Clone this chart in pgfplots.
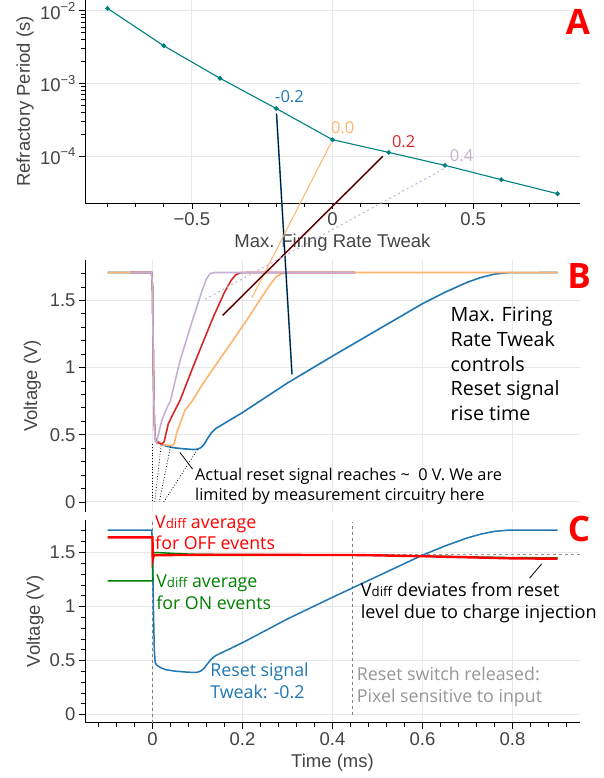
\documentclass[border=0pt]{standalone}
\usepackage{fontspec}
\setmainfont{Liberation Sans}
\newfontfamily\annot{Open Sans}
\usepackage{pgfplots}
\pgfplotsset{compat=1.18}
\definecolor{tickgray}{RGB}{68,68,68}
\definecolor{gridgray}{RGB}{232,232,232}
\definecolor{tblue}{RGB}{31,119,180}
\definecolor{torange}{RGB}{255,180,110}
\definecolor{tred}{RGB}{214,39,40}
\definecolor{tlav}{RGB}{197,176,213}
\definecolor{tealc}{RGB}{0,128,128}
\definecolor{offred}{RGB}{255,0,0}
\definecolor{ongreen}{RGB}{0,128,0}
\definecolor{swgray}{RGB}{150,150,150}
\newcommand{\fs}[1]{\fontsize{#1}{#1}\selectfont}
\newcommand{\sub}{\raisebox{0pt}{\fs{13.3}diff}}

\pgfplotsset{
  panel/.style={
    scale only axis, width=495pt,
    axis x line*=bottom, axis y line*=left,
    axis line style={line width=0.9pt, black, -},
    tick align=outside,
    major tick length=6pt, minor tick length=4pt,
    tick style={black, line width=0.7pt},
    grid=major,
    major grid style={draw=gridgray, line width=0.9pt},
    tick label style={font=\fs{18.5}, text=tickgray},
    label style={font=\fs{18.5}, text=tickgray},
    clip mode=individual,
  },
  vpanel/.style={panel, xmin=-0.15, xmax=0.95, ymin=-0.075, ymax=1.8,
    xtick={0,0.2,0.4,0.6,0.8},
    ytick={0,0.5,1,1.5}, yticklabels={0,0.5,1,1.5},
    minor ytick={0.1,0.2,0.3,0.4,0.6,0.7,0.8,0.9,1.1,1.2,1.3,1.4,1.6,1.7},
  },
}

\pgfplotstableread{
t v
-0.100 1.707
-0.002 1.707
0.000 1.60
0.002 1.00
0.004 0.60
0.006 0.48
0.010 0.455
0.020 0.43
0.030 0.415
0.050 0.402
0.070 0.395
0.090 0.390
0.100 0.392
0.108 0.405
0.115 0.43
0.122 0.47
0.130 0.51
0.140 0.545
0.160 0.585
0.200 0.665
0.300 0.885
0.400 1.085
0.500 1.28
0.600 1.475
0.650 1.56
0.700 1.635
0.730 1.670
0.760 1.695
0.790 1.706
0.900 1.707
}\blueT

\pgfplotstableread{
t v
-0.100 1.707
-0.002 1.707
0.000 1.60
0.002 1.00
0.004 0.60
0.006 0.48
0.012 0.445
0.025 0.425
0.043 0.418
0.048 0.43
0.054 0.517
0.072 0.68
0.089 0.754
0.110 0.87
0.132 0.978
0.170 1.16
0.209 1.35
0.240 1.51
0.260 1.61
0.275 1.675
0.290 1.703
0.310 1.707
0.900 1.707
}\orangeT

\pgfplotstableread{
t v
-0.050 1.707
-0.002 1.707
0.000 1.60
0.002 1.00
0.004 0.60
0.006 0.47
0.012 0.44
0.021 0.43
0.026 0.45
0.035 0.58
0.048 0.67
0.061 0.754
0.087 0.978
0.110 1.17
0.135 1.375
0.160 1.56
0.175 1.65
0.185 1.69
0.195 1.705
0.210 1.707
0.450 1.707
}\redT

\pgfplotstableread{
t v
-0.050 1.707
-0.002 1.707
0.000 1.60
0.002 1.00
0.004 0.60
0.006 0.45
0.009 0.44
0.013 0.50
0.020 0.60
0.032 0.70
0.040 0.754
0.061 1.05
0.091 1.375
0.110 1.57
0.120 1.66
0.128 1.70
0.140 1.707
0.450 1.707
}\lavT

\pgfplotstableread{
t v
-0.100 1.640
0.000 1.640
0.0005 1.435
0.003 1.475
0.100 1.477
0.300 1.477
0.450 1.476
0.500 1.473
0.600 1.465
0.700 1.455
0.800 1.445
0.900 1.442
}\offT

\pgfplotstableread{
t v
-0.100 1.238
0.000 1.238
0.0005 1.500
0.020 1.497
0.050 1.490
0.100 1.482
0.200 1.479
0.450 1.477
0.550 1.470
0.700 1.460
0.800 1.452
0.900 1.450
}\onT

\begin{document}
\begin{tikzpicture}
\useasboundingbox (0pt,0pt) rectangle (604pt,-778pt);

% ---------------- Panel A ----------------
\begin{axis}[panel, at={(85pt,-203pt)}, anchor=south west, height=203pt,
  xmin=-0.88, xmax=0.88, ymode=log, ymin=2.28e-5, ymax=1.403e-2,
  xtick={-0.5,0,0.5}, xticklabels={−0.5,0,0.5},
  minor xtick={-0.8,-0.7,-0.6,-0.4,-0.3,-0.2,-0.1,0.1,0.2,0.3,0.4,0.6,0.7,0.8},
  ytick={1e-4,1e-3,1e-2},
  yticklabels={10\raisebox{0.42em}{\fs{13}−4},10\raisebox{0.42em}{\fs{13}−3},10\raisebox{0.42em}{\fs{13}−2}},
  xlabel={Max. Firing Rate Tweak}, ylabel={Refractory Period (s)},
  xlabel style={at={(axis description cs:0.5,-0.197)}, anchor=center},
  ylabel style={at={(axis description cs:-0.121,0.5)}, anchor=center},
]
\addplot[tealc, line width=1.1pt, mark=*, mark size=1.8pt, mark options={fill=tealc, draw=tealc}]
  coordinates {(-0.8,0.01076)(-0.6,3.30e-3)(-0.4,1.18e-3)(-0.2,4.53e-4)(0,1.69e-4)(0.2,1.13e-4)(0.4,7.5e-5)(0.6,4.77e-5)(0.8,3.06e-5)};
\node[anchor=base, text=tblue, font=\annot\fs{16.5}] at (axis cs:-0.153,5.42e-4) {-0.2};
\node[anchor=base, text=torange, font=\annot\fs{16.5}] at (axis cs:0.036,2.05e-4) {0.0};
\node[anchor=base, text=tred, font=\annot\fs{16.5}] at (axis cs:0.253,1.30e-4) {0.2};
\node[anchor=base, text=tlav, font=\annot\fs{16.5}] at (axis cs:0.459,8.53e-5) {0.4};
\coordinate (Ab) at (axis cs:-0.199,3.86e-4);
\coordinate (Ao) at (axis cs:-0.0055,1.52e-4);
\coordinate (Ar) at (axis cs:0.179,1.0e-4);
\coordinate (Al) at (axis cs:0.395,6.7e-5);
\end{axis}

% ---------------- Panel B ----------------
\begin{axis}[vpanel, at={(85pt,-512pt)}, anchor=south west, height=252pt,
  xmajorticks=false, x axis line style={draw=none},
  ylabel={Voltage (V)},
  ylabel style={at={(axis description cs:-0.1065,0.5)}, anchor=center},
]
\addplot[tblue, line width=1.6pt] table[x=t,y=v] {\blueT};
\addplot[torange, line width=1.6pt] table[x=t,y=v] {\orangeT};
\addplot[tred, line width=1.6pt] table[x=t,y=v] {\redT};
\addplot[tlav, line width=1.6pt] table[x=t,y=v] {\lavT};
\draw[black, dotted, line width=0.8pt] (axis cs:0.000,0.43) -- (axis cs:0.000,0.0);
\draw[black, dotted, line width=0.8pt] (axis cs:0.019,0.42) -- (axis cs:0.005,0.0);
\draw[black, dotted, line width=0.8pt] (axis cs:0.040,0.41) -- (axis cs:0.015,0.0);
\draw[black, dotted, line width=0.8pt] (axis cs:0.100,0.39) -- (axis cs:0.025,0.0);
\draw[black, line width=0.8pt] (axis cs:0.061,0.368) -- (axis cs:0.089,0.244);
\node[anchor=base west, inner sep=0pt, font=\annot\fs{16.3}] at (axis cs:0.0944,0.157) {Actual reset signal reaches \textasciitilde\ \ 0 V. We are};
\node[anchor=base west, inner sep=0pt, font=\annot\fs{16.3}] at (axis cs:0.0944,0.0075) {limited by measurement circuitry here};
\node[anchor=base west, inner sep=0pt, font=\annot\fs{19.7}] at (axis cs:0.662,1.341) {Max. Firing};
\node[anchor=base west, inner sep=0pt, font=\annot\fs{19.7}] at (axis cs:0.662,1.157) {Rate Tweak};
\node[anchor=base west, inner sep=0pt, font=\annot\fs{19.7}] at (axis cs:0.662,0.974) {controls};
\node[anchor=base west, inner sep=0pt, font=\annot\fs{19.7}] at (axis cs:0.662,0.790) {Reset signal};
\node[anchor=base west, inner sep=0pt, font=\annot\fs{19.7}] at (axis cs:0.662,0.607) {rise time};
\coordinate (Bb) at (axis cs:0.310,0.95);
\coordinate (Bo) at (axis cs:0.221,1.52);
\coordinate (Br) at (axis cs:0.156,1.388);
\coordinate (Bl) at (axis cs:0.115,1.505);
\end{axis}

% ---------------- Panel C ----------------
\begin{axis}[vpanel, at={(85pt,-722.7pt)}, anchor=south west, height=202.7pt,
  xticklabels={0,0.2,0.4,0.6,0.8},
  minor xtick={-0.12,-0.08,-0.04,0.04,0.08,0.12,0.16,0.24,0.28,0.32,0.36,0.44,0.48,0.52,0.56,0.64,0.68,0.72,0.76,0.84,0.88,0.92},
  xlabel={Time (ms)}, ylabel={Voltage (V)},
  xlabel style={at={(axis description cs:0.5,-0.199)}, anchor=center},
  ylabel style={at={(axis description cs:-0.101,0.5)}, anchor=center},
]
\draw[gray, dashed, line width=0.7pt] (axis cs:0,-0.075) -- (axis cs:0,1.8);
\draw[gray, dashed, line width=0.7pt] (axis cs:0.445,0.0) -- (axis cs:0.445,1.78);
\draw[swgray, dashed, line width=0.8pt] (axis cs:0.45,1.48) -- (axis cs:0.95,1.48);
\addplot[tblue, line width=1.5pt] table[x=t,y=v] {\blueT};
\addplot[ongreen, line width=1.5pt] table[x=t,y=v] {\onT};
\addplot[offred, line width=2.4pt] table[x=t,y=v] {\offT};
\draw[black, line width=0.8pt] (axis cs:0.865,1.395) -- (axis cs:0.838,1.262);
\node[anchor=base west, inner sep=0pt, text=offred, font=\annot\fs{17.8}] at (axis cs:0.0056,1.718) {V\sub\ average};
\node[anchor=base west, inner sep=0pt, text=offred, font=\annot\fs{17.8}] at (axis cs:0.0056,1.526) {for OFF events};
\node[anchor=base west, inner sep=0pt, text=ongreen, font=\annot\fs{17.8}] at (axis cs:0.008,1.176) {V\sub\ average};
\node[anchor=base west, inner sep=0pt, text=ongreen, font=\annot\fs{17.8}] at (axis cs:0.008,0.968) {for ON events};
\node[anchor=base west, inner sep=0pt, text=tblue, font=\annot\fs{17.8}] at (axis cs:0.128,0.349) {Reset signal};
\node[anchor=base west, inner sep=0pt, text=tblue, font=\annot\fs{17.8}] at (axis cs:0.128,0.148) {Tweak: -0.2};
\node[anchor=base west, inner sep=0pt, font=\annot\fs{18.1}] at (axis cs:0.4627,1.092) {V\sub\ deviates from reset};
\node[anchor=base west, inner sep=0pt, font=\annot\fs{18.1}] at (axis cs:0.4627,0.891) {level due to charge injection};
\node[anchor=base west, inner sep=0pt, text=swgray, font=\annot\fs{17.8}] at (axis cs:0.4537,0.32) {Reset switch released:};
\node[anchor=base west, inner sep=0pt, text=swgray, font=\annot\fs{17.8}] at (axis cs:0.4537,0.108) {Pixel sensitive to input};
\end{axis}

% connectors between panels
\draw[tblue, line width=1.6pt] (Ab) -- (Bb);
\draw[black, line width=0.7pt] (Ab) -- (Bb);
\draw[torange, line width=1.0pt] (Ao) -- (Bo);
\draw[tred, line width=1.6pt] (Ar) -- (Br);
\draw[black, line width=0.7pt] (Ar) -- (Br);
\draw[tlav, line width=1.0pt, dash pattern=on 2pt off 3pt] (Al) -- (Bl);

% panel letters
\node[anchor=base, text=offred, font=\annot\bfseries\fs{35}] at (578pt,-35pt) {A};
\node[anchor=base, text=offred, font=\annot\bfseries\fs{35}] at (579pt,-288.3pt) {B};
\node[anchor=base, text=offred, font=\annot\bfseries\fs{35}] at (579pt,-541.7pt) {C};
\end{tikzpicture}
\end{document}
